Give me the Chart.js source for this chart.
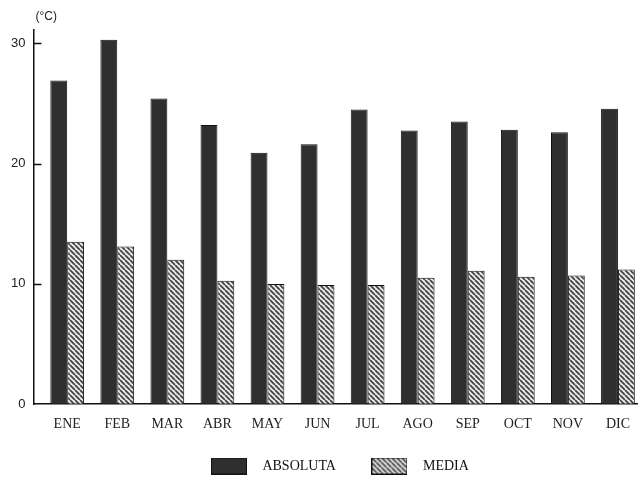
<!DOCTYPE html>
<html>
<head>
<meta charset="utf-8">
<script src="https://cdn.jsdelivr.net/npm/chart.js@4/dist/chart.umd.min.js"></script>
<style>
  html, body { margin: 0; padding: 0; background: #fff; overflow: hidden; }
  #wrap { width: 642px; height: 483px; position: relative; }
</style>
</head>
<body>
<div id="wrap"><canvas id="c" width="642" height="483"></canvas></div>
<script>
const months = ['ENE', 'FEB', 'MAR', 'ABR', 'MAY', 'JUN', 'JUL', 'AGO', 'SEP', 'OCT', 'NOV', 'DIC'];
const absoluta = [26.9, 30.3, 25.4, 23.2, 20.9, 21.6, 24.5, 22.75, 23.5, 22.8, 22.6, 24.55];
const media = [13.5, 13.1, 12.0, 10.25, 10.0, 9.9, 9.9, 10.5, 11.1, 10.6, 10.7, 11.2];
const yTicks = [0, 10, 20, 30];
const unitLabel = '(°C)';

function hatchPattern() {
  const s = 5;
  const c = document.createElement('canvas');
  c.width = s; c.height = s;
  const g = c.getContext('2d');
  g.fillStyle = '#ececec';
  g.fillRect(0, 0, s, s);
  g.strokeStyle = '#444';
  g.lineWidth = 1.8;
  g.beginPath();
  for (const k of [-s, 0, s]) { g.moveTo(k, 0); g.lineTo(k + s, s); }
  g.stroke();
  return document.createElement('canvas').getContext('2d').createPattern(c, 'repeat');
}
const hatch = hatchPattern();
const darkFill = '#2f2f2f';

function legendBox(fill) {
  const c = document.createElement('canvas');
  c.width = 36; c.height = 17;
  const g = c.getContext('2d');
  g.fillStyle = fill;
  g.fillRect(0, 0, 36, 17);
  g.strokeStyle = '#111';
  g.lineWidth = 1;
  g.strokeRect(0.5, 0.5, 35, 16);
  return c;
}
const legendImgs = [legendBox(darkFill), legendBox(hatch)];

const innerTicks = {
  id: 'innerTicks',
  afterDraw(chart) {
    const ctx = chart.ctx, y = chart.scales.y, a = chart.chartArea;
    ctx.save();
    ctx.strokeStyle = '#111';
    ctx.lineWidth = 1.5;
    y.ticks.forEach(t => {
      if (t.value === 0) return;
      const py = Math.round(y.getPixelForValue(t.value)) + 0.5;
      ctx.beginPath();
      ctx.moveTo(a.left, py);
      ctx.lineTo(a.left + 8, py);
      ctx.stroke();
    });
    ctx.fillStyle = '#222';
    ctx.font = '12px "Liberation Sans", Arial, sans-serif';
    ctx.textBaseline = 'middle';
    ctx.textAlign = 'left';
    ctx.fillText(unitLabel, a.left + 2, 17);
    ctx.restore();
  }
};

new Chart(document.getElementById('c'), {
  type: 'bar',
  data: {
    datasets: [
      {
        label: 'ABSOLUTA',
        data: absoluta.map((v, i) => ({ x: i, y: v })),
        backgroundColor: darkFill,
        borderColor: '#111',
        borderWidth: 1,
        categoryPercentage: 0.674,
        barPercentage: 1.0
      },
      {
        label: 'MEDIA',
        data: media.map((v, i) => ({ x: i, y: v })),
        backgroundColor: hatch,
        borderColor: '#111',
        borderWidth: 1,
        categoryPercentage: 0.674,
        barPercentage: 1.0
      }
    ]
  },
  options: {
    responsive: false,
    animation: false,
    devicePixelRatio: 1,
    layout: { padding: { left: 3, top: 30, right: 0, bottom: 0 } },
    plugins: {
      tooltip: { enabled: false },
      title: { display: false },
      legend: {
        display: true,
        position: 'bottom',
        fullSize: false,
        labels: {
          usePointStyle: true,
          pointStyleWidth: 53,
          padding: 27,
          color: '#111',
          font: { family: '"Liberation Serif", "Times New Roman", serif', size: 14 },
          generateLabels(chart) {
            const items = Chart.defaults.plugins.legend.labels.generateLabels(chart);
            items.forEach((it, i) => { it.pointStyle = legendImgs[i]; });
            return items;
          }
        }
      }
    },
    scales: {
      x: {
        type: 'linear',
        offset: false,
        min: -0.674,
        max: 11.396,
        afterBuildTicks(scale) { scale.ticks = months.map((m, i) => ({ value: i })); },
        afterFit(scale) { scale.height -= 13; },
        ticks: {
          autoSkip: false,
          maxRotation: 0,
          padding: 12,
          color: '#222',
          font: { family: '"Liberation Serif", "Times New Roman", serif', size: 14 },
          callback: (v) => months[v]
        },
        grid: { display: false, drawTicks: false },
        border: { display: true, color: '#111', width: 1.5 }
      },
      y: {
        min: 0,
        max: 31.1,
        afterBuildTicks(scale) { scale.ticks = yTicks.map(v => ({ value: v })); },
        ticks: {
          padding: 8,
          color: '#222',
          font: { family: '"Liberation Sans", Arial, sans-serif', size: 13 }
        },
        grid: { display: true, drawOnChartArea: false, drawTicks: false },
        border: { display: true, color: '#111', width: 1.5 }
      }
    }
  },
  plugins: [innerTicks]
});
</script>
</body>
</html>
